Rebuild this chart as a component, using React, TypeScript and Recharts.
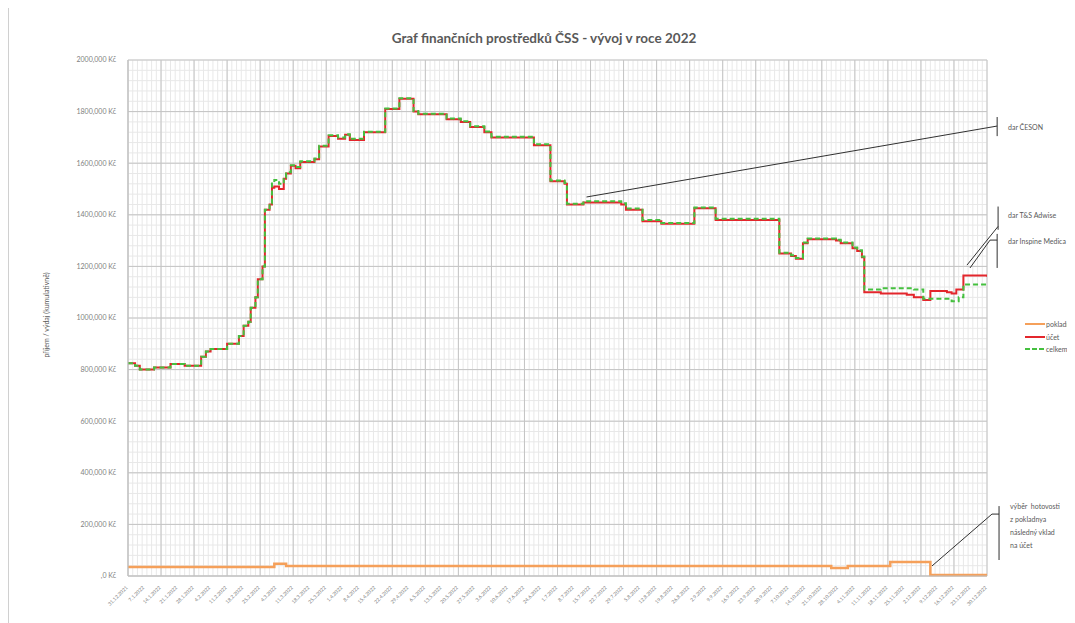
import React from 'react';
import {
  LineChart,
  Line,
  XAxis,
  YAxis,
  CartesianGrid,
  ReferenceLine,
} from 'recharts';

// Weekly tick labels (day 0 = 31.12.2021)
const tickLabels = [
  '31.12.2021', '7.1.2022', '14.1.2022', '21.1.2022', '28.1.2022', '4.2.2022', '11.2.2022',
  '18.2.2022', '25.2.2022', '4.3.2022', '11.3.2022', '18.3.2022', '25.3.2022', '1.4.2022',
  '8.4.2022', '15.4.2022', '22.4.2022', '29.4.2022', '6.5.2022', '13.5.2022', '20.5.2022',
  '27.5.2022', '3.6.2022', '10.6.2022', '17.6.2022', '24.6.2022', '1.7.2022', '8.7.2022',
  '15.7.2022', '22.7.2022', '29.7.2022', '5.8.2022', '12.8.2022', '19.8.2022', '26.8.2022',
  '2.9.2022', '9.9.2022', '16.9.2022', '23.9.2022', '30.9.2022', '7.10.2022', '14.10.2022',
  '21.10.2022', '28.10.2022', '4.11.2022', '11.11.2022', '18.11.2022', '25.11.2022',
  '2.12.2022', '9.12.2022', '16.12.2022', '23.12.2022', '30.12.2022',
];
const tickDays = tickLabels.map((_, i) => i * 7);

const yTicks = [0, 200000, 400000, 600000, 800000, 1000000, 1200000, 1400000, 1600000, 1800000, 2000000];

// [day, Kč] – value holds until the next point
const pokladna: [number, number][] = [
  [0, 35000], [62, 47000], [67, 39000], [298, 31000], [305, 39000],
  [323, 54000], [340, 4000], [364, 4000],
];

const ucet: [number, number][] = [
  [0, 825000], [3, 815000], [5, 800000], [11, 808000], [18, 822000], [24, 815000],
  [31, 850000], [33, 870000], [35, 880000], [42, 900000], [47, 930000], [49, 970000],
  [51, 985000], [52, 1040000], [54, 1080000], [55, 1150000], [57, 1200000], [58, 1420000],
  [60, 1440000], [61, 1505000], [62, 1510000], [64, 1500000], [66, 1540000], [67, 1560000],
  [69, 1590000], [71, 1580000], [73, 1605000], [79, 1615000], [81, 1665000], [85, 1705000],
  [89, 1695000], [92, 1710000], [94, 1690000], [100, 1720000], [109, 1810000], [115, 1850000],
  [121, 1800000], [123, 1790000], [135, 1770000], [141, 1760000], [145, 1740000],
  [151, 1720000], [154, 1700000], [172, 1670000], [179, 1530000], [185, 1520000],
  [186, 1440000], [193, 1448000], [209, 1440000], [211, 1420000], [218, 1375000],
  [226, 1365000], [240, 1425000], [249, 1380000], [276, 1250000], [281, 1240000],
  [283, 1230000], [286, 1290000], [288, 1305000], [300, 1300000], [302, 1290000],
  [307, 1270000], [309, 1260000], [311, 1235000], [312, 1100000], [319, 1095000],
  [330, 1090000], [333, 1080000], [337, 1070000], [340, 1105000], [347, 1100000],
  [349, 1095000], [351, 1110000], [354, 1165000], [364, 1160000],
];

const celkem: [number, number][] = [
  [0, 825000], [3, 815000], [5, 800000], [11, 808000], [18, 822000], [24, 815000],
  [31, 850000], [33, 870000], [35, 880000], [42, 900000], [47, 930000], [49, 970000],
  [51, 985000], [52, 1040000], [54, 1080000], [55, 1150000], [57, 1200000], [58, 1420000],
  [60, 1445000], [61, 1525000], [62, 1535000], [64, 1520000], [66, 1545000], [67, 1565000],
  [69, 1592000], [71, 1585000], [73, 1608000], [79, 1618000], [81, 1668000], [85, 1708000],
  [89, 1700000], [92, 1712000], [94, 1695000], [100, 1722000], [109, 1812000], [115, 1852000],
  [121, 1802000], [123, 1792000], [135, 1773000], [141, 1763000], [145, 1743000],
  [151, 1723000], [154, 1703000], [172, 1673000], [179, 1533000], [185, 1523000],
  [186, 1443000], [193, 1453000], [209, 1445000], [211, 1424000], [218, 1380000],
  [226, 1368000], [240, 1428000], [249, 1385000], [276, 1253000], [281, 1243000],
  [283, 1233000], [286, 1293000], [288, 1308000], [300, 1303000], [302, 1293000],
  [307, 1273000], [309, 1263000], [311, 1238000], [312, 1110000], [319, 1115000],
  [333, 1110000], [337, 1075000], [349, 1065000], [352, 1080000], [354, 1130000],
  [364, 1128000],
];

const toRows = (arr: [number, number][]) => arr.map(([day, value]) => ({ day, value }));

// annotation segments, in data units
const annotations: { x: number; y: number }[][] = [
  [{ x: 194.3, y: 1469000 }, { x: 368.3, y: 1744000 }],
  [{ x: 368.3, y: 1779000 }, { x: 368.3, y: 1705000 }],
  [{ x: 355.5, y: 1205000 }, { x: 368.7, y: 1355000 }],
  [{ x: 368.7, y: 1432000 }, { x: 368.7, y: 1342000 }],
  [{ x: 356.8, y: 1194000 }, { x: 365.3, y: 1302000 }],
  [{ x: 365.3, y: 1302000 }, { x: 368.3, y: 1302000 }],
  [{ x: 368.3, y: 1326000 }, { x: 368.3, y: 1194000 }],
  [{ x: 340.7, y: 39000 }, { x: 366.1, y: 240000 }],
  [{ x: 366.1, y: 240000 }, { x: 369.1, y: 240000 }],
  [{ x: 369.1, y: 271000 }, { x: 369.1, y: 62000 }],
];

const formatKc = (v: number) => (v === 0 ? ',0 Kč' : `${Math.round(v / 1000)},000 Kč`);

const XTick = (props: any) => {
  const { x, y, payload } = props;
  const label = tickLabels[Math.round(payload.value / 7)];
  return (
    <text
      x={x}
      y={y + 4}
      transform={`rotate(-45 ${x} ${y + 4})`}
      textAnchor="end"
      fontSize={5}
      fill="#7f7f7f"
    >
      {label}
    </text>
  );
};

const gridX = (step: number) => (props: any) => {
  const { offset } = props;
  const pts: number[] = [];
  for (let d = 0; d <= 364; d += step) pts.push(offset.left + (d / 364) * offset.width);
  return pts;
};
const gridY = (step: number) => (props: any) => {
  const { offset } = props;
  const pts: number[] = [];
  for (let v = 0; v <= 2000000; v += step) pts.push(offset.top + offset.height - (v / 2000000) * offset.height);
  return pts;
};

const textStyle: React.CSSProperties = {
  position: 'absolute',
  fontFamily: 'Lato, "Open Sans", sans-serif',
  fontSize: 7,
  color: '#595959',
  whiteSpace: 'nowrap',
};

const legendItems = [
  { name: 'pokladna', color: '#f5a05a', dash: false, top: 312 },
  { name: 'účet', color: '#e3262c', dash: false, top: 325 },
  { name: 'celkem', color: '#45c03f', dash: true, top: 337 },
];

export default function App() {
  return (
    <div
      style={{
        position: 'relative',
        width: 1067,
        height: 615,
        overflow: 'hidden',
        borderLeft: '1px solid #d0d0d0',
        boxSizing: 'border-box',
        fontFamily: 'Lato, "Open Sans", sans-serif',
      }}
    >
      <div
        style={{
          position: 'absolute',
          top: 22,
          left: 0,
          width: 1070,
          textAlign: 'center',
          fontSize: 13.5,
          fontWeight: 700,
          color: '#595959',
        }}
      >
        Graf finančních prostředků ČSS - vývoj v roce 2022
      </div>

      <LineChart width={1067} height={615} margin={{ top: 52, right: 89, left: 0, bottom: 0 }}>
        <CartesianGrid
          stroke="#e8e8e8"
          verticalCoordinatesGenerator={gridX(2)}
          horizontalCoordinatesGenerator={gridY(40000)}
        />
        <CartesianGrid
          stroke="#c4c4c4"
          verticalCoordinatesGenerator={gridX(14)}
          horizontalCoordinatesGenerator={gridY(200000)}
        />
        <XAxis
          type="number"
          dataKey="day"
          domain={[0, 364]}
          ticks={tickDays}
          interval={0}
          tick={<XTick />}
          tickLine={false}
          axisLine={{ stroke: '#bfbfbf' }}
          height={47}
          allowDataOverflow
        />
        <YAxis
          type="number"
          dataKey="value"
          domain={[0, 2000000]}
          ticks={yTicks}
          tickFormatter={formatKc}
          tick={{ fontSize: 7, fill: '#7f7f7f' }}
          tickLine={false}
          axisLine={{ stroke: '#bfbfbf' }}
          width={119}
          tickMargin={6}
        />
        <Line
          data={toRows(pokladna)}
          dataKey="value"
          type="stepAfter"
          stroke="#f5a05a"
          strokeWidth={2.5}
          dot={false}
          isAnimationActive={false}
        />
        <Line
          data={toRows(ucet)}
          dataKey="value"
          type="stepAfter"
          stroke="#e3262c"
          strokeWidth={2}
          dot={false}
          isAnimationActive={false}
        />
        <Line
          data={toRows(celkem)}
          dataKey="value"
          type="stepAfter"
          stroke="#45c03f"
          strokeWidth={2}
          strokeDasharray="5 3"
          dot={false}
          isAnimationActive={false}
        />
        {annotations.map((seg, i) => (
          <ReferenceLine key={i} segment={seg} stroke="#303030" strokeWidth={1} ifOverflow="visible" />
        ))}
      </LineChart>

      <div
        style={{
          ...textStyle,
          left: 37,
          top: 307,
          transform: 'translate(-50%, -50%) rotate(-90deg)',
        }}
      >
        příjem / výdaj (kumulativně)
      </div>

      <div style={{ ...textStyle, left: 999, top: 115 }}>dar ČESON</div>
      <div style={{ ...textStyle, left: 999, top: 203 }}>dar T&amp;S Adwise</div>
      <div style={{ ...textStyle, left: 999, top: 229 }}>dar Inspine Medica</div>
      <div style={{ ...textStyle, left: 1001, top: 492, lineHeight: '13px' }}>
        výběr&nbsp; hotovosti
        <br />z pokladnya
        <br />následný vklad
        <br />na účet
      </div>

      {legendItems.map((it) => (
        <div key={it.name} style={{ ...textStyle, left: 1016, top: it.top, display: 'flex', alignItems: 'center' }}>
          <svg width={20} height={4} style={{ marginRight: 1 }}>
            <line
              x1={0}
              y1={2}
              x2={20}
              y2={2}
              stroke={it.color}
              strokeWidth={2}
              strokeDasharray={it.dash ? '5 2' : undefined}
            />
          </svg>
          <span>{it.name}</span>
        </div>
      ))}
    </div>
  );
}
